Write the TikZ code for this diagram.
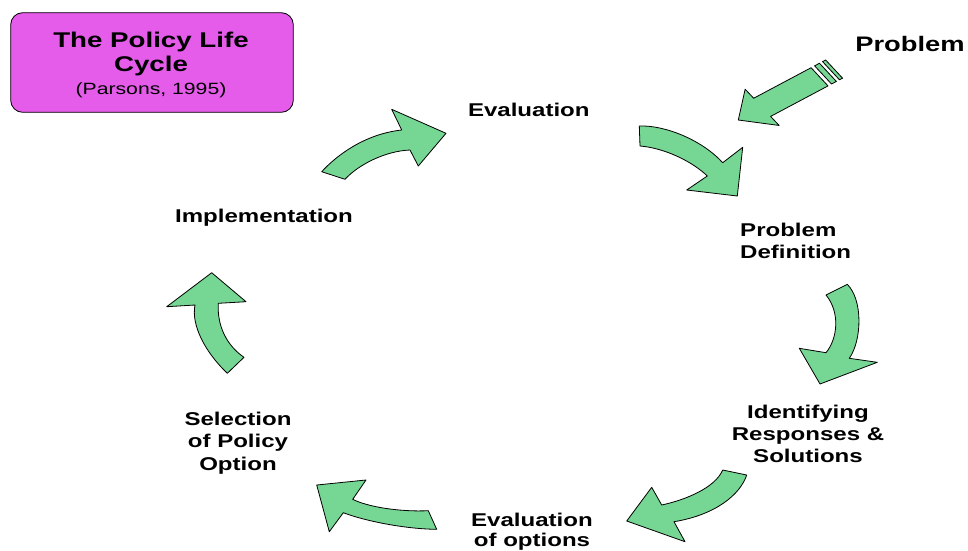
\documentclass[tikz,border=0pt]{standalone}
\usepackage{fontspec}
\setmainfont[FakeStretch=1.3]{Liberation Sans}
\definecolor{arrgreen}{RGB}{118,214,148}
\definecolor{boxmag}{RGB}{228,92,233}
\newcommand{\stk}[2]{\begin{tabular}[t]{@{}#1@{}}#2\end{tabular}}
\begin{document}
\begin{tikzpicture}[x=1pt,y=-1pt,
  bigarrow/.style={fill=arrgreen,draw=black,line width=0.8pt,line join=round},
  lab/.style={font=\fontsize{18.5}{22}\selectfont\bfseries,inner sep=0pt,anchor=base},
]
\useasboundingbox (0,0) rectangle (968,550);

% title box
\node[draw=black,fill=boxmag,rounded corners=12pt,line width=0.8pt,
      minimum width=282.6pt,minimum height=99.6pt,inner sep=0pt] (titlebox) at (152,62.5) {};
\node[inner sep=0pt,anchor=base,font=\fontsize{21.3}{24.8}\selectfont\bfseries] (title) at (151,47)
  {\stk{c}{The Policy Life\\Cycle\\[-2pt]{\fontsize{16.3}{20}\selectfont\mdseries (Parsons, 1995)}}};

% labels
\node[lab,font=\fontsize{21}{24}\selectfont\bfseries] (problem) at (910,51.7) {Problem};
\node[lab] (eval) at (528.8,116.7) {Evaluation};
\node[lab,anchor=base west] (probdef) at (740,236.5) {\stk{l}{Problem\\Definition}};
\node[lab] (impl) at (264,222.5) {Implementation};
\node[lab] (ident) at (808,418.3) {\stk{c}{Identifying\\Responses \&\\Solutions}};
\node[lab] (select) at (238,425) {\stk{c}{Selection\\[0.5pt]of Policy\\[0.5pt]Option}};
\node[lab] (evalopt) at (532,526.7) {\stk{c}{Evaluation\\[-2pt]of options}};

% problem arrow (straight, with stripes)
\begin{scope}[shift={(738.3,120)},rotate=28]
  \draw[bigarrow] (0,0) -- (20.5,-24) -- (23.8,-12) -- (88.8,-12) -- (95.2,12) -- (30.2,12) -- (33.5,24) -- cycle;
  \draw[bigarrow] (92.8,-12) -- (98.3,-12) -- (104.7,12) -- (99.2,12) -- cycle;
  \draw[bigarrow] (101.8,-12) -- (105.3,-12) -- (111.7,12) -- (108.2,12) -- cycle;
\end{scope}

% cycle arrows
\draw[bigarrow] (321.7,171.7) .. controls (337,155) and (365,134) .. (401.7,130)
  -- (391.7,109.3) -- (446,133.3) -- (418.3,166) -- (410,150)
  .. controls (385,151) and (358,165) .. (345,179.3) -- cycle;

\draw[bigarrow] (639.3,126) .. controls (665,125) and (702,140) .. (722.7,162.7)
  -- (742.7,147.3) -- (737.3,196) -- (686.7,190) -- (707.3,176)
  .. controls (693,162) and (665,148) .. (640,146) -- cycle;

\draw[bigarrow] (826,295) -- (847.3,284.3) .. controls (863,300) and (862,340) .. (849.3,358.3)
  -- (877.3,362.3) -- (820,384) -- (799.3,348.3) -- (826,352.7)
  .. controls (838,338) and (840,312) .. (826,295) -- cycle;

\draw[bigarrow] (722.7,470) -- (746.7,475) .. controls (740,495) and (715,515) .. (674,521.7)
  -- (685,541.7) -- (626.7,521) -- (651.7,487.3) -- (661.7,505)
  .. controls (685,500) and (715,488) .. (722.7,470) -- cycle;

\draw[bigarrow] (428.3,510.7) -- (436.7,529.3) .. controls (405,529) and (365,521) .. (343.3,512.7)
  -- (329.3,531.7) -- (316.7,485) -- (366,480) -- (352.7,499.3)
  .. controls (368,507) and (400,512) .. (428.3,510.7) -- cycle;

\draw[bigarrow] (244,357.3) -- (227.3,373.3) .. controls (205,352) and (191,325) .. (195,305)
  -- (166.7,306.7) -- (211.7,272.7) -- (246,301.7) -- (218.3,303.3)
  .. controls (217,325) and (226,345) .. (244,357.3) -- cycle;
\end{tikzpicture}
\end{document}
